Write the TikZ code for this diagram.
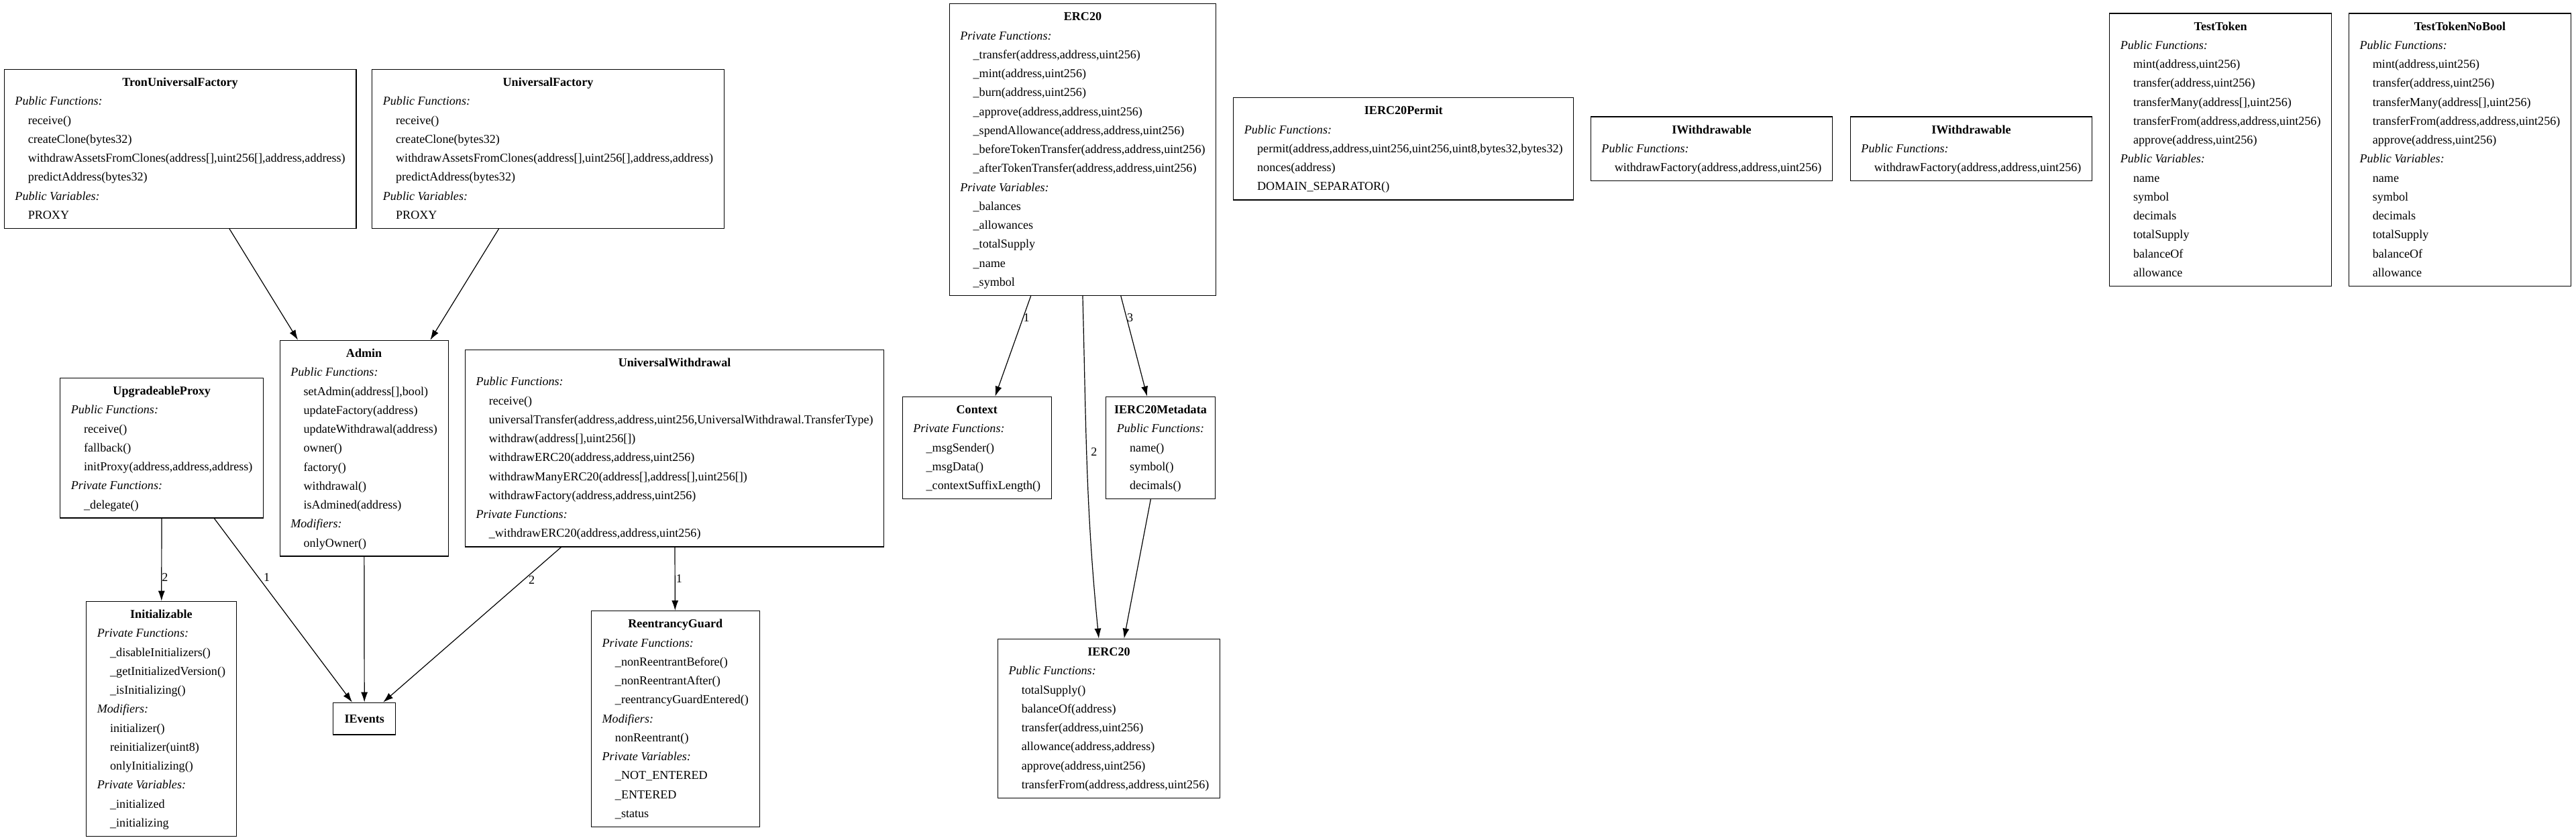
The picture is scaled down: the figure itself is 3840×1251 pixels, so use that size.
\documentclass[tikz,border=0pt]{standalone}
\usepackage{fontspec}
\setmainfont{Liberation Serif}
\usetikzlibrary{positioning,arrows.meta}

\newcommand{\rows}[1]{\begin{tabular}{@{}l@{}}#1\end{tabular}}
\newcommand{\ctitle}[1]{\multicolumn{1}{@{\hspace{-4pt}}c@{\hspace{-4pt}}}{\textbf{#1}}}
\newcommand{\csec}[1]{\textit{#1}}
\newcommand{\citem}[1]{\hspace*{19.3pt}#1}

\begin{document}
\begin{tikzpicture}[x=1pt,y=-1pt,>={Latex[length=15pt,width=10pt]},
	contract/.style={draw,line width=1.3pt,anchor=north west,
		inner xsep=16.2pt,inner ysep=5.5pt,
		font=\fontsize{18.1}{28.25}\selectfont},
	iface/.style={draw,line width=1.3pt,anchor=north west,
		inner xsep=16.9pt,minimum height=47.6pt,
		font=\fontsize{18.1}{28.25}\selectfont},
	dep/.style={->,line width=1.2pt},
	num/.style={anchor=west,inner sep=0pt,font=\fontsize{18.1}{22}\selectfont}]
\useasboundingbox (0,0) rectangle (3840,1251);

% factories
\node[contract] (TUF) at (5.6,102.7) {\rows{
	\ctitle{TronUniversalFactory}\\
	\csec{Public Functions:}\\
	\citem{receive()}\\
	\citem{createClone(bytes32)}\\
	\citem{withdrawAssetsFromClones(address[],uint256[],address,address)}\\
	\citem{predictAddress(bytes32)}\\
	\csec{Public Variables:}\\
	\citem{PROXY}}};
\node[contract] (UF) at (554,102.7) {\rows{
	\ctitle{UniversalFactory}\\
	\csec{Public Functions:}\\
	\citem{receive()}\\
	\citem{createClone(bytes32)}\\
	\citem{withdrawAssetsFromClones(address[],uint256[],address,address)}\\
	\citem{predictAddress(bytes32)}\\
	\csec{Public Variables:}\\
	\citem{PROXY}}};

\node[contract] (ADM) at (416.5,506.7) {\rows{
	\ctitle{Admin}\\
	\csec{Public Functions:}\\
	\citem{setAdmin(address[],bool)}\\
	\citem{updateFactory(address)}\\
	\citem{updateWithdrawal(address)}\\
	\citem{owner()}\\
	\citem{factory()}\\
	\citem{withdrawal()}\\
	\citem{isAdmined(address)}\\
	\csec{Modifiers:}\\
	\citem{onlyOwner()}}};
\node[contract] (UPX) at (89,562.7) {\rows{
	\ctitle{UpgradeableProxy}\\
	\csec{Public Functions:}\\
	\citem{receive()}\\
	\citem{fallback()}\\
	\citem{initProxy(address,address,address)}\\
	\csec{Private Functions:}\\
	\citem{\_delegate()}}};
\node[contract] (UW) at (692.7,520.7) {\rows{
	\ctitle{UniversalWithdrawal}\\
	\csec{Public Functions:}\\
	\citem{receive()}\\
	\citem{universalTransfer(address,address,uint256,UniversalWithdrawal.TransferType)}\\
	\citem{withdraw(address[],uint256[])}\\
	\citem{withdrawERC20(address,address,uint256)}\\
	\citem{withdrawManyERC20(address[],address[],uint256[])}\\
	\citem{withdrawFactory(address,address,uint256)}\\
	\csec{Private Functions:}\\
	\citem{\_withdrawERC20(address,address,uint256)}}};

\node[contract] (INIT) at (128,895.7) {\rows{
	\ctitle{Initializable}\\
	\csec{Private Functions:}\\
	\citem{\_disableInitializers()}\\
	\citem{\_getInitializedVersion()}\\
	\citem{\_isInitializing()}\\
	\csec{Modifiers:}\\
	\citem{initializer()}\\
	\citem{reinitializer(uint8)}\\
	\citem{onlyInitializing()}\\
	\csec{Private Variables:}\\
	\citem{\_initialized}\\
	\citem{\_initializing}}};
\node[iface] (EVT) at (496,1046.7) {\textbf{IEvents}};
\node[contract] (RG) at (880.8,910) {\rows{
	\ctitle{ReentrancyGuard}\\
	\csec{Private Functions:}\\
	\citem{\_nonReentrantBefore()}\\
	\citem{\_nonReentrantAfter()}\\
	\citem{\_reentrancyGuardEntered()}\\
	\csec{Modifiers:}\\
	\citem{nonReentrant()}\\
	\csec{Private Variables:}\\
	\citem{\_NOT\_ENTERED}\\
	\citem{\_ENTERED}\\
	\citem{\_status}}};

% token side
\node[contract] (ERC) at (1414.5,5) {\rows{
	\ctitle{ERC20}\\
	\csec{Private Functions:}\\
	\citem{\_transfer(address,address,uint256)}\\
	\citem{\_mint(address,uint256)}\\
	\citem{\_burn(address,uint256)}\\
	\citem{\_approve(address,address,uint256)}\\
	\citem{\_spendAllowance(address,address,uint256)}\\
	\citem{\_beforeTokenTransfer(address,address,uint256)}\\
	\citem{\_afterTokenTransfer(address,address,uint256)}\\
	\csec{Private Variables:}\\
	\citem{\_balances}\\
	\citem{\_allowances}\\
	\citem{\_totalSupply}\\
	\citem{\_name}\\
	\citem{\_symbol}}};
\node[contract] (CTX) at (1344.5,590.7) {\rows{
	\ctitle{Context}\\
	\csec{Private Functions:}\\
	\citem{\_msgSender()}\\
	\citem{\_msgData()}\\
	\citem{\_contextSuffixLength()}}};
\node[contract] (META) at (1648,590.7) {\rows{
	\ctitle{IERC20Metadata}\\
	\csec{Public Functions:}\\
	\citem{name()}\\
	\citem{symbol()}\\
	\citem{decimals()}}};
\node[contract] (IERC) at (1486.7,951.7) {\rows{
	\ctitle{IERC20}\\
	\csec{Public Functions:}\\
	\citem{totalSupply()}\\
	\citem{balanceOf(address)}\\
	\citem{transfer(address,uint256)}\\
	\citem{allowance(address,address)}\\
	\citem{approve(address,uint256)}\\
	\citem{transferFrom(address,address,uint256)}}};

\node[contract] (PRM) at (1838,145) {\rows{
	\ctitle{IERC20Permit}\\
	\csec{Public Functions:}\\
	\citem{permit(address,address,uint256,uint256,uint8,bytes32,bytes32)}\\
	\citem{nonces(address)}\\
	\citem{DOMAIN\_SEPARATOR()}}};
\node[contract] (IWA) at (2370.6,173.2) {\rows{
	\ctitle{IWithdrawable}\\
	\csec{Public Functions:}\\
	\citem{withdrawFactory(address,address,uint256)}}};
\node[contract] (IWB) at (2757.6,173.2) {\rows{
	\ctitle{IWithdrawable}\\
	\csec{Public Functions:}\\
	\citem{withdrawFactory(address,address,uint256)}}};

\node[contract] (TT) at (3143.9,19.3) {\rows{
	\ctitle{TestToken}\\
	\csec{Public Functions:}\\
	\citem{mint(address,uint256)}\\
	\citem{transfer(address,uint256)}\\
	\citem{transferMany(address[],uint256)}\\
	\citem{transferFrom(address,address,uint256)}\\
	\citem{approve(address,uint256)}\\
	\csec{Public Variables:}\\
	\citem{name}\\
	\citem{symbol}\\
	\citem{decimals}\\
	\citem{totalSupply}\\
	\citem{balanceOf}\\
	\citem{allowance}}};
\node[contract] (TTNB) at (3500.7,19.3) {\rows{
	\ctitle{TestTokenNoBool}\\
	\csec{Public Functions:}\\
	\citem{mint(address,uint256)}\\
	\citem{transfer(address,uint256)}\\
	\citem{transferMany(address[],uint256)}\\
	\citem{transferFrom(address,address,uint256)}\\
	\citem{approve(address,uint256)}\\
	\csec{Public Variables:}\\
	\citem{name}\\
	\citem{symbol}\\
	\citem{decimals}\\
	\citem{totalSupply}\\
	\citem{balanceOf}\\
	\citem{allowance}}};

% dependencies
\draw[dep] (TUF) -- (ADM);
\draw[dep] (UF) -- (ADM);
\draw[dep] (UPX) -- node[num,pos=0.71]{2} (INIT);
\draw[dep] (UPX) -- node[num,pos=0.32,xshift=7.4pt]{1} (EVT);
\draw[dep] (ADM) -- (EVT);
\draw[dep] (UW) -- node[num,pos=0.21,xshift=6.7pt]{2} (EVT);
\draw[dep] (UW) -- node[num,pos=0.5,xshift=1pt]{1} (RG);
\draw[dep] (ERC) -- node[num,pos=0.22]{1} (CTX);
\draw[dep] (ERC.south) to[out=-88.5,in=95.6] node[num,pos=0.45,xshift=6pt]{2} ([xshift=-15pt]IERC.north);
\draw[dep] (ERC) -- node[num,pos=0.22]{3} (META);
\draw[dep] (META) -- (IERC);
\end{tikzpicture}
\end{document}
